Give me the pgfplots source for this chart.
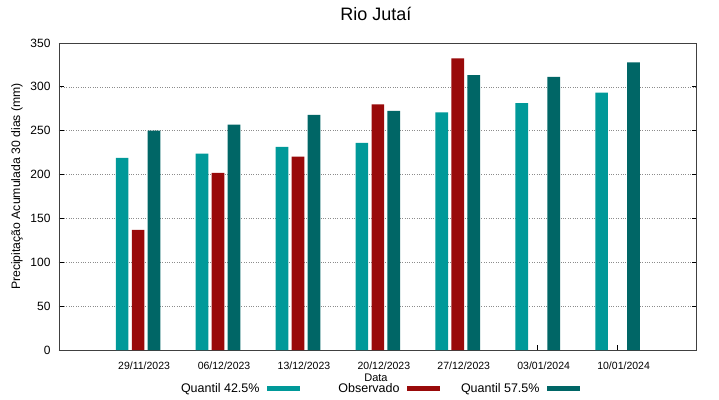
\documentclass[border=0pt]{standalone}
\usepackage{pgfplots}
\pgfplotsset{compat=1.18}
\usepackage{fontspec}
\setmainfont{Liberation Sans}
\definecolor{cqa}{HTML}{009999}
\definecolor{cobs}{HTML}{990A0A}
\definecolor{cqb}{HTML}{006666}
\pgfplotsset{mylegend/.style={legend image code/.code={\fill[##1,draw=none] (0pt,-2.5pt) rectangle (33.4pt,2.5pt);}}}
\begin{document}
\begin{tikzpicture}
\fill[white] (0pt,0pt) rectangle (719pt,399pt);
\begin{axis}[
  at={(59pt,49pt)}, anchor=south west,
  scale only axis, width=637.7pt, height=307pt,
  xmin=-0.99, xmax=6.99, ymin=0, ymax=350,
  ytick={0,50,...,350},
  xtick={0,...,6},
  xticklabels={29/11/2023,06/12/2023,13/12/2023,20/12/2023,27/12/2023,03/01/2024,10/01/2024},
  /pgf/number format/assume math mode=true,
  tick align=inside, major tick length=5pt,
  xtick pos=lower, ytick pos=both,
  tick style={black, line width=0.8pt},
  axis line style={line width=0.9pt, black!75},
  ymajorgrids,
  major grid style={dotted, gray!90, line width=0.7pt},
  yticklabel style={font=\fontsize{12}{14}\selectfont, xshift=-5pt},
  xticklabel style={font=\fontsize{10.5}{12}\selectfont, xshift=6pt, yshift=-8pt},
  every axis title shift=0pt,
  title={Rio Jutaí},
  title style={font=\fontsize{18}{21}\selectfont, at={(axis description cs:0.497,1.0726)}, anchor=base},
  xlabel={Data},
  xlabel style={font=\fontsize{11}{13}\selectfont, at={(axis description cs:0.497,-0.104)}, anchor=base},
  ylabel={Precipitação Acumulada 30 dias (mm)},
  ylabel style={font=\fontsize{12.25}{14}\selectfont, at={(axis description cs:-0.0659,0.5326)}, anchor=center},
  legend columns=3,
  legend plot pos=right,
  legend style={at={(axis description cs:0.173,-0.1254)}, anchor=west, draw=none, fill=none, inner sep=0pt,
    nodes={inner sep=0pt, font=\fontsize{12.5}{14}\selectfont},
    /tikz/every odd column/.append style={column sep=7.4pt},
    /tikz/every even column/.append style={column sep=9.2pt}},
]
\addplot[ybar, bar width=12.7pt, bar shift=0pt, fill=cqa, draw=none, mylegend]
  coordinates {(-0.2,219) (0.8,224) (1.8,231.5) (2.8,236) (3.8,271) (4.8,281.5) (5.8,293.5)};
\addlegendentry{\makebox[90pt][r]{Quantil 42.5\%}}
\addplot[ybar, bar width=12.7pt, bar shift=0pt, fill=cobs, draw=none, mylegend]
  coordinates {(0,137) (1,202) (2,220.5) (3,280) (4,332.5)};
\addlegendentry{\makebox[90pt][r]{Observado}}
\addplot[ybar, bar width=12.7pt, bar shift=0pt, fill=cqb, draw=none, mylegend]
  coordinates {(0.2,250) (1.2,257) (2.2,268) (3.2,272.5) (4.2,313.5) (5.2,311.5) (6.2,328)};
\addlegendentry{\makebox[90pt][r]{Quantil 57.5\%}}
\end{axis}
\end{tikzpicture}
\end{document}
